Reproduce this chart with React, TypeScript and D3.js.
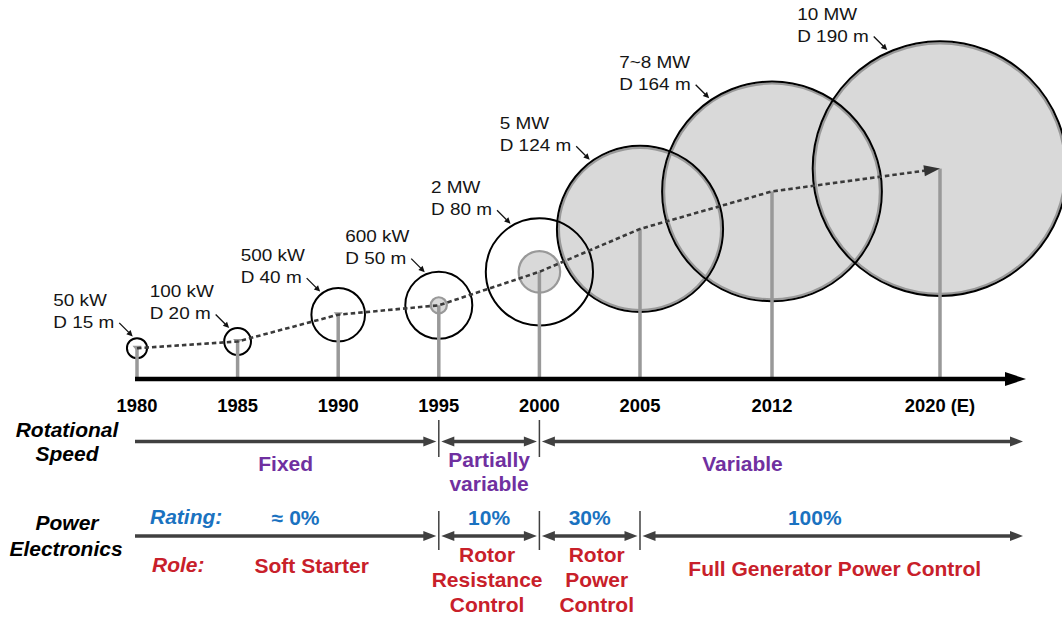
import { useEffect, useRef } from 'react'
import * as d3 from 'd3'

// turbine generations
const YEARS = [1980, 1985, 1990, 1995, 2000, 2005, 2012, 2020]
const YEAR_LABELS = ['1980', '1985', '1990', '1995', '2000', '2005', '2012', '2020 (E)']
const POWER = ['50 kW', '100 kW', '500 kW', '600 kW', '2 MW', '5 MW', '7~8 MW', '10 MW']
const ROTOR_D = [15, 20, 40, 50, 80, 124, 164, 190] // rotor diameter, m
const HUB_H = [23, 28, 48, 55, 80, 112, 140, 157]
const INNER_D = [0, 0, 0, 12, 31, 0, 0, 0] // small grey disc at the hub
const SHADED = [false, false, false, false, false, true, true, true]

// technology rows
const SPEED_BOUNDS = [1980, 1995, 2000]
const SPEED_LABELS = [['Fixed'], ['Partially', 'variable'], ['Variable']]
const PE_BOUNDS = [1980, 1995, 2000, 2005]
const PE_RATING = ['≈ 0%', '10%', '30%', '100%']
const PE_ROLE = [
  ['Soft Starter'],
  ['Rotor', 'Resistance', 'Control'],
  ['Rotor', 'Power', 'Control'],
  ['Full Generator Power Control'],
]

// layout
const W = 1062
const H = 620
const AXIS_Y = 379
const AXIS_END = 1026
const ROW_END = 1023
const FONT = '"Liberation Sans", Arial, Helvetica, sans-serif'
const LABEL_ANGLE = [-110, -122, -128, -113, -121, -126, -124, -114]
const SPEED_DX = [0, 0, -40]
const RATING_DX = [10, 0, 0, -18]
const ROLE_DX = [26, -2, 7, 2]
const ROLE_DY = [0, 0, 0, 3]

const PURPLE = '#7030a0'
const BLUE = '#1a72c0'
const RED = '#c8202a'
const DARK = '#404040'

type TextOpts = {
  size: number
  weight?: string
  style?: string
  fill?: string
  anchor?: string
  sx?: number
}

function addText(g: d3.Selection<SVGGElement, unknown, null, undefined>, s: string, x: number, y: number, o: TextOpts) {
  return g.append('text')
    .attr('transform', `translate(${x},${y}) scale(${o.sx ?? 1.05},1)`)
    .attr('text-anchor', o.anchor ?? 'middle')
    .attr('font-family', FONT)
    .attr('font-size', o.size)
    .attr('font-weight', o.weight ?? 'bold')
    .attr('font-style', o.style ?? 'normal')
    .attr('fill', o.fill ?? '#000')
    .text(s)
}

export default function App() {
  const svgRef = useRef<SVGSVGElement>(null)

  useEffect(() => {
    if (!svgRef.current) return
    const svg = d3.select(svgRef.current)
    svg.selectAll('*').remove()
    const g = svg.append('g') as d3.Selection<SVGGElement, unknown, null, undefined>

    const x = d3.scaleLinear().domain([1980, 2005, 2012, 2020]).range([137, 640, 772, 940])
    const m = d3.scaleLinear().domain([0, 100]).range([0, 134]) // metres -> px

    const turbines = YEARS.map((yr, i) => ({
      cx: x(yr),
      cy: AXIS_Y - m(HUB_H[i]),
      r: m(ROTOR_D[i]) / 2,
      ri: m(INNER_D[i]) / 2,
      shaded: SHADED[i],
      i,
    }))

    // rotor fills first so every outline stays visible on top
    g.selectAll('circle.fill')
      .data(turbines.filter(t => t.shaded))
      .join('circle')
      .attr('cx', t => t.cx).attr('cy', t => t.cy).attr('r', t => t.r - 2)
      .attr('fill', '#d9d9d9')

    g.selectAll('circle.inner')
      .data(turbines.filter(t => t.ri > 0))
      .join('circle')
      .attr('cx', t => t.cx).attr('cy', t => t.cy).attr('r', t => t.ri)
      .attr('fill', '#d9d9d9').attr('stroke', '#999').attr('stroke-width', 2.2)

    g.selectAll('circle.grey-ring')
      .data(turbines.filter(t => t.shaded))
      .join('circle')
      .attr('cx', t => t.cx).attr('cy', t => t.cy).attr('r', t => t.r - 2)
      .attr('fill', 'none').attr('stroke', '#999').attr('stroke-width', 2.2)

    g.selectAll('circle.ring')
      .data(turbines)
      .join('circle')
      .attr('cx', t => t.cx).attr('cy', t => t.cy).attr('r', t => t.r)
      .attr('fill', 'none').attr('stroke', '#000').attr('stroke-width', 2)

    // towers
    g.selectAll('line.tower')
      .data(turbines)
      .join('line')
      .attr('x1', t => t.cx).attr('x2', t => t.cx)
      .attr('y1', AXIS_Y).attr('y2', t => t.cy)
      .attr('stroke', '#999').attr('stroke-width', 3.5)

    g.selectAll('path.nacelle')
      .data(turbines.filter(t => ROTOR_D[t.i] <= 40))
      .join('path')
      .attr('d', t => `M${t.cx - 4.5},${t.cy - 2.5}L${t.cx + 4.5},${t.cy - 2.5}L${t.cx},${t.cy + 3}Z`)
      .attr('fill', '#999')

    // dashed hub-height trend with arrow
    const last = turbines[turbines.length - 1]
    const prev = turbines[turbines.length - 2]
    const len = Math.hypot(last.cx - prev.cx, last.cy - prev.cy)
    const ux = (last.cx - prev.cx) / len
    const uy = (last.cy - prev.cy) / len
    const pts: [number, number][] = turbines.slice(0, -1).map(t => [t.cx, t.cy])
    pts.push([last.cx - 14 * ux, last.cy - 14 * uy])
    g.append('path')
      .attr('d', d3.line()(pts))
      .attr('fill', 'none').attr('stroke', '#3a3a3a').attr('stroke-width', 2.6)
      .attr('stroke-dasharray', '4.5 3')
    const bx = last.cx - 16 * ux
    const by = last.cy - 16 * uy
    g.append('path')
      .attr('d', `M${last.cx},${last.cy}L${bx - 5.5 * uy},${by + 5.5 * ux}L${bx + 5.5 * uy},${by - 5.5 * ux}Z`)
      .attr('fill', '#333')

    // main time axis
    g.append('line')
      .attr('x1', x(1980) - 2).attr('x2', AXIS_END - 18)
      .attr('y1', AXIS_Y).attr('y2', AXIS_Y)
      .attr('stroke', '#000').attr('stroke-width', 4.5)
    g.append('path')
      .attr('d', `M${AXIS_END},${AXIS_Y}L${AXIS_END - 21},${AXIS_Y - 7}L${AXIS_END - 21},${AXIS_Y + 7}Z`)
      .attr('fill', '#000')

    YEARS.forEach((yr, i) => {
      addText(g, YEAR_LABELS[i], x(yr), 412, { size: 17.5 })
    })

    // rating / diameter callouts
    turbines.forEach(t => {
      const a = (LABEL_ANGLE[t.i] * Math.PI) / 180
      const d = t.r + 2.5
      const ex = t.cx + d * Math.cos(a)
      const ey = t.cy + d * Math.sin(a)
      const sx = ex - 13.5
      const sy = ey - 13.5
      g.append('line')
        .attr('x1', sx).attr('y1', sy).attr('x2', ex - 4).attr('y2', ey - 4)
        .attr('stroke', '#111').attr('stroke-width', 1.3)
      const k = Math.SQRT1_2
      g.append('path')
        .attr('d', `M${ex},${ey}L${ex - 6 * k + 3 * k},${ey - 6 * k - 3 * k}L${ex - 6 * k - 3 * k},${ey - 6 * k + 3 * k}Z`)
        .attr('fill', '#111')

      const opts = { size: 17.2, weight: 'normal', fill: '#151515', anchor: 'start', sx: 1.1 }
      const line2 = `D ${ROTOR_D[t.i]} m`
      const probe = addText(g, line2, 0, 0, opts)
      const w = (probe.node() as SVGTextElement).getComputedTextLength() * 1.1
      probe.remove()
      const left = sx - 5 - w
      const base2 = sy + 5
      addText(g, POWER[t.i], left, base2 - 22, opts)
      addText(g, line2, left, base2, opts)
    })

    // row headers
    const head = { size: 20, style: 'italic' }
    addText(g, 'Rotational', 67, 437, head)
    addText(g, 'Speed', 67, 460.5, head)
    addText(g, 'Power', 67, 530, head)
    addText(g, 'Electronics', 66, 556, head)
    addText(g, 'Rating:', 150, 524, { size: 20, style: 'italic', fill: BLUE, anchor: 'start' })
    addText(g, 'Role:', 152, 572, { size: 20, style: 'italic', fill: RED, anchor: 'start' })

    const arrowHead = (tipX: number, y: number, dir: number) =>
      g.append('path')
        .attr('d', `M${tipX},${y}L${tipX - dir * 13},${y - 5}L${tipX - dir * 13},${y + 5}Z`)
        .attr('fill', DARK)

    const drawRow = (bounds: number[], y: number, tickTop: number, tickBot: number) => {
      const spans = bounds.map((b, i) => {
        const x0 = i === 0 ? x(b) - 2 : x(b) + 2.5
        const x1 = i === bounds.length - 1 ? ROW_END : x(bounds[i + 1]) - 2.5
        return [x0, x1]
      })
      spans.forEach(([x0, x1], i) => {
        const a0 = i === 0 ? x0 : x0 + 11
        g.append('line')
          .attr('x1', a0).attr('x2', x1 - 11).attr('y1', y).attr('y2', y)
          .attr('stroke', DARK).attr('stroke-width', 3.5)
        arrowHead(x1, y, 1)
        if (i > 0) arrowHead(x0, y, -1)
      })
      bounds.slice(1).forEach(b => {
        g.append('line')
          .attr('x1', x(b)).attr('x2', x(b)).attr('y1', tickTop).attr('y2', tickBot)
          .attr('stroke', DARK).attr('stroke-width', 1.5)
      })
      return spans.map(([x0, x1]) => (x0 + x1) / 2)
    }

    const speedMid = drawRow(SPEED_BOUNDS, 441.5, 420, 457)
    SPEED_LABELS.forEach((lines, i) => {
      lines.forEach((s, k) => {
        const base = lines.length === 1 ? 471 : 467 + 24.3 * k
        addText(g, s, speedMid[i] + SPEED_DX[i], base, { size: 20, fill: PURPLE })
      })
    })

    const peMid = drawRow(PE_BOUNDS, 536, 511, 550)
    PE_RATING.forEach((s, i) => {
      addText(g, s, peMid[i] + RATING_DX[i], 525, { size: 20, fill: BLUE })
    })
    PE_ROLE.forEach((lines, i) => {
      lines.forEach((s, k) => {
        const base = lines.length === 1 ? 573 + ROLE_DY[i] : 561.5 + 25 * k
        addText(g, s, peMid[i] + ROLE_DX[i], base, { size: 20, fill: RED })
      })
    })
  }, [])

  return (
    <svg
      ref={svgRef}
      width={W}
      height={H}
      style={{ position: 'absolute', left: 0, top: 0, display: 'block', background: '#fff' }}
    />
  )
}
